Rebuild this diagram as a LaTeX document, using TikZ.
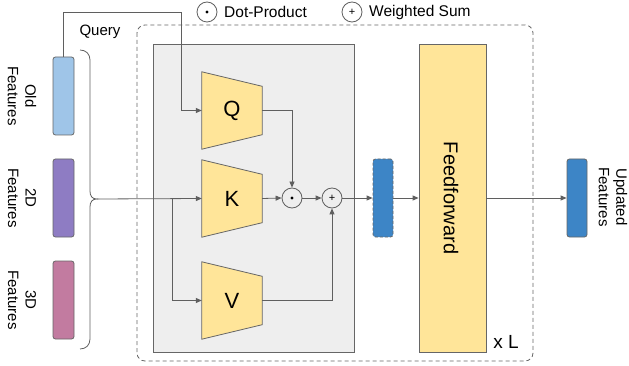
\documentclass[tikz,border=0pt]{standalone}
\usepackage{fontspec}
\setmainfont{Liberation Sans}
\usetikzlibrary{arrows.meta,backgrounds,calc}
\definecolor{lineg}{HTML}{5F5F5F}
\definecolor{boxg}{HTML}{666666}
\definecolor{bgg}{HTML}{EEEEEE}
\definecolor{yel}{HTML}{FFE599}
\definecolor{oldc}{HTML}{9FC5E8}
\definecolor{twod}{HTML}{8E7CC3}
\definecolor{threed}{HTML}{C27BA0}
\definecolor{blu}{HTML}{3D85C6}
\tikzset{
  conn/.style={draw=lineg, line width=0.8pt},
  arr/.style={conn, -{Triangle[length=6pt,width=5pt]}},
  bar/.style={draw=boxg, line width=0.8pt, rounded corners=2.5pt, minimum width=21pt, minimum height=78pt, inner sep=0pt},
  lbl/.style={rotate=-90, align=center, font=\fontsize{15}{17.5}\selectfont, inner sep=0pt},
  qkv/.style={minimum width=60pt, minimum height=77pt, inner sep=0pt, font=\fontsize{22}{24}\selectfont},
  trap/.style={fill=yel, draw=boxg, line width=0.8pt},
  op/.style={circle, draw=lineg, line width=0.8pt, minimum size=20pt, inner sep=0pt},
  small/.style={font=\fontsize{15.5}{18}\selectfont, inner sep=0pt, anchor=west},
}
\begin{document}
\begin{tikzpicture}[x=1pt,y=-1pt]
\useasboundingbox (0,0) rectangle (629,366);
% Q K V text nodes (positions only)
\node (Q) [qkv] at (232,110.5) {Q};
\node (K) [qkv] at (232,198.5) {K};
\node (V) [qkv] at (232,300.5) {V};
\begin{scope}[on background layer]
% outer dashed loop box
\draw[boxg, line width=0.8pt, dash pattern=on 4pt off 3pt, rounded corners=8pt] (137,25) rectangle (533,361);
% attention block
\node (att) [draw=boxg, fill=bgg, line width=0.8pt, minimum width=201pt, minimum height=308pt, inner sep=0pt] at (253.5,198) {};
\foreach \n in {Q,K,V}{
  \path[trap] (\n.north west) -- ($(\n.north east)+(0,14.5)$) -- ($(\n.south east)+(0,-14.5)$) -- (\n.south west) -- cycle;
}
\end{scope}
% input bars
\node (old) [bar, fill=oldc] at (63.5,96) {};
\node (twoD) [bar, fill=twod] at (63.5,198) {};
\node (threeD) [bar, fill=threed] at (63.5,300) {};
\node (oldl) [lbl] at (22,96) {Old\\Features};
\node (twoDl) [lbl] at (22,198) {2D\\Features};
\node (threeDl) [lbl] at (22,300) {3D\\Features};
\node (query) [font=\fontsize{15}{18}\selectfont, inner sep=0pt] at (100,32) {Query};
% operators
\node (dot) [op] at (292,198) {};
\fill[black] (dot.center) circle (1.7pt);
\node (plus) [op, font=\fontsize{11}{11}\selectfont] at (332,198) {+};
% middle dashed blue
\node (mid) [bar, fill=blu, dash pattern=on 3pt off 2pt, minimum width=20pt] at (383,198) {};
% feedforward
\node (ff) [draw=boxg, fill=yel, line width=0.8pt, minimum width=67pt, minimum height=308pt, inner sep=0pt] at (452.5,198) {};
\node (fft) [rotate=-90, font=\fontsize{20}{24}\selectfont, inner sep=0pt] at (451,198) {Feedforward};
\node (xl) [font=\fontsize{19}{22}\selectfont, inner sep=0pt] at (506,342) {x L};
% updated
\node (upd) [bar, fill=blu, minimum width=20pt] at (577,198) {};
\node (updl) [lbl] at (613,197) {Updated\\Features};
% legend
\node (ldot) [op] at (207,12) {};
\fill[black] (ldot.center) circle (1.7pt);
\node (ldott) [small] at (224,12) {Dot-Product};
\node (lplus) [op, font=\fontsize{11}{11}\selectfont] at (352,12) {+};
\node (lplust) [small] at (369,12) {Weighted Sum};
% brace
\coordinate (bm) at (97,199);
\draw[conn] (80,50) .. controls (86,50) and (90,54) .. (90,60) -- (90,191) .. controls (90,196) and (92,199) .. (bm)
  .. controls (92,199) and (90,202) .. (90,207) -- (90,339) .. controls (90,345) and (86,349) .. (80,349);
% connectors
\coordinate (qc) at (181,12);
\draw[arr] (old.north) |- (qc) |- (Q.west);
\draw[arr] (bm) -- (K.west);
\coordinate (br) at (172,199);
\draw[arr] (br) |- (V.west);
\draw[arr] (Q.east) -| (dot.north);
\draw[arr] (K.east) -- (dot.west);
\draw[arr] (dot.east) -- (plus.west);
\draw[arr] (V.east) -| (plus.south);
\draw[arr] (plus.east) -- (mid.west);
\draw[arr] (mid.east) -- (ff.west);
\draw[arr] (ff.east) -- (upd.west);
\end{tikzpicture}
\end{document}
